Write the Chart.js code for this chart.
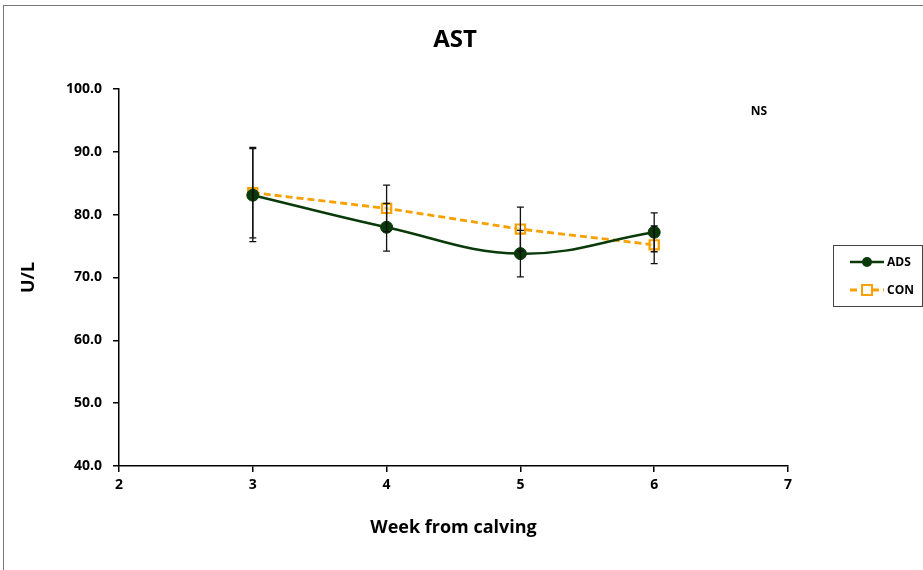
<!DOCTYPE html>
<html>
<head>
<meta charset="utf-8">
<script src="https://cdn.jsdelivr.net/npm/chart.js@4"></script>
<style>
  html, body { margin: 0; padding: 0; background: #fff; }
  #wrap { width: 923px; height: 570px; }
</style>
</head>
<body>
<div id="wrap"><canvas id="chart" width="923" height="570"></canvas></div>
<script>
// DATA
const weeks = [3, 4, 5, 6];
const adsMean = [83.1, 78.0, 73.8, 77.2];
const adsErr = [7.4, 3.8, 3.7, 3.1];
const conMean = [83.5, 81.0, 77.7, 75.2];
const conErr = [7.2, 3.7, 3.5, 3.0];
const yTicks = [40, 50, 60, 70, 80, 90, 100];
const xTicks = [2, 3, 4, 5, 6, 7];

const FONT = "'Open Sans', sans-serif";
const GREEN = "#0a3a0a";
const ORANGE = "#f7a000";

const errors = [adsErr, conErr];

// error bars, frame, title, legend
const extras = {
  id: "extras",
  afterDatasetsDraw(chart) {
    const ctx = chart.ctx;
    const xs = chart.scales.x;
    const ys = chart.scales.y;
    ctx.save();
    ctx.strokeStyle = "#111";
    ctx.lineWidth = 1.3;
    chart.data.datasets.forEach((ds, i) => {
      ds.data.forEach((p, j) => {
        const x = xs.getPixelForValue(p.x);
        const top = ys.getPixelForValue(p.y + errors[i][j]);
        const bot = ys.getPixelForValue(p.y - errors[i][j]);
        ctx.beginPath();
        ctx.moveTo(x, top); ctx.lineTo(x, bot);
        ctx.moveTo(x - 3.5, top); ctx.lineTo(x + 3.5, top);
        ctx.moveTo(x - 3.5, bot); ctx.lineTo(x + 3.5, bot);
        ctx.stroke();
      });
    });
    ctx.restore();
  },
  afterDraw(chart) {
    const ctx = chart.ctx;
    ctx.save();
    // outer frame
    ctx.strokeStyle = "#777";
    ctx.lineWidth = 1;
    ctx.strokeRect(3.5, 5.5, 960, 620);

    // title
    ctx.fillStyle = "#000";
    ctx.textAlign = "center";
    ctx.textBaseline = "middle";
    ctx.font = "bold 24px " + FONT;
    ctx.fillText("AST", 455, 40);

    // NS note
    ctx.font = "bold 12px " + FONT;
    ctx.fillText("NS", 759, 112);

    // legend
    ctx.strokeStyle = "#444";
    ctx.lineWidth = 1;
    ctx.strokeRect(833.5, 245.5, 89, 61);
    ctx.textAlign = "left";
    ctx.font = "bold 12px " + FONT;
    const rows = [262, 290];
    chart.data.datasets.forEach((ds, i) => {
      const y = rows[i];
      ctx.save();
      ctx.strokeStyle = ds.borderColor;
      ctx.lineWidth = ds.borderWidth;
      ctx.setLineDash(ds.borderDash || []);
      ctx.beginPath();
      ctx.moveTo(850, y); ctx.lineTo(884, y);
      ctx.stroke();
      ctx.setLineDash([]);
      if (ds.pointStyle === "rect") {
        ctx.fillStyle = "#fff";
        ctx.lineWidth = 2;
        ctx.strokeStyle = ds.pointBorderColor;
        ctx.fillRect(862, y - 5, 10, 10);
        ctx.strokeRect(862, y - 5, 10, 10);
      } else {
        ctx.fillStyle = ds.pointBackgroundColor;
        ctx.beginPath();
        ctx.arc(867, y, 5, 0, Math.PI * 2);
        ctx.fill();
      }
      ctx.restore();
      ctx.fillStyle = "#000";
      ctx.fillText(ds.label, 887, y + 1);
    });
    ctx.restore();
  }
};

new Chart(document.getElementById("chart"), {
  type: "line",
  data: {
    datasets: [
      {
        label: "ADS",
        data: weeks.map((w, i) => ({ x: w, y: adsMean[i] })),
        borderColor: GREEN,
        backgroundColor: GREEN,
        borderWidth: 2.5,
        tension: 0.4,
        pointStyle: "circle",
        pointRadius: 6,
        pointBackgroundColor: GREEN,
        pointBorderColor: GREEN,
        pointBorderWidth: 1
      },
      {
        label: "CON",
        data: weeks.map((w, i) => ({ x: w, y: conMean[i] })),
        borderColor: ORANGE,
        backgroundColor: ORANGE,
        borderWidth: 2.8,
        borderDash: [7, 4],
        tension: 0,
        pointStyle: "rect",
        pointRadius: 6.5,
        pointBackgroundColor: "rgba(255,255,255,0.6)",
        pointBorderColor: ORANGE,
        pointBorderWidth: 2.2
      }
    ]
  },
  options: {
    responsive: false,
    animation: false,
    layout: { padding: { left: 0, top: 89, right: 135, bottom: 0 } },
    plugins: {
      legend: { display: false },
      tooltip: { enabled: false },
      title: { display: false }
    },
    scales: {
      x: {
        type: "linear",
        min: 2,
        max: 7,
        afterBuildTicks(scale) { scale.ticks = xTicks.map(v => ({ value: v })); },
        afterFit(scale) { scale.height = 104; },
        ticks: {
          color: "#000",
          font: { family: FONT, weight: "bold", size: 14 },
          padding: 5
        },
        grid: { drawOnChartArea: false, drawTicks: true, tickLength: 6, color: "#000", lineWidth: 1.5 },
        border: { color: "#000", width: 1.5 },
        title: {
          display: true,
          text: "Week from calving",
          color: "#000",
          font: { family: FONT, weight: "bold", size: 18 },
          padding: { top: 0, bottom: 31 }
        }
      },
      y: {
        min: 40,
        max: 100,
        afterBuildTicks(scale) { scale.ticks = yTicks.map(v => ({ value: v })); },
        afterFit(scale) { scale.width = 119; },
        ticks: {
          color: "#000",
          font: { family: FONT, weight: "bold", size: 14 },
          padding: 11,
          callback: v => v.toFixed(1)
        },
        grid: { drawOnChartArea: false, drawTicks: true, tickLength: 6, color: "#000", lineWidth: 1.5 },
        border: { color: "#000", width: 1.5 },
        title: {
          display: true,
          text: "U/L",
          color: "#000",
          font: { family: FONT, weight: "bold", size: 18 },
          padding: { top: 18, bottom: 0 }
        }
      }
    }
  },
  plugins: [extras]
});
</script>
</body>
</html>
